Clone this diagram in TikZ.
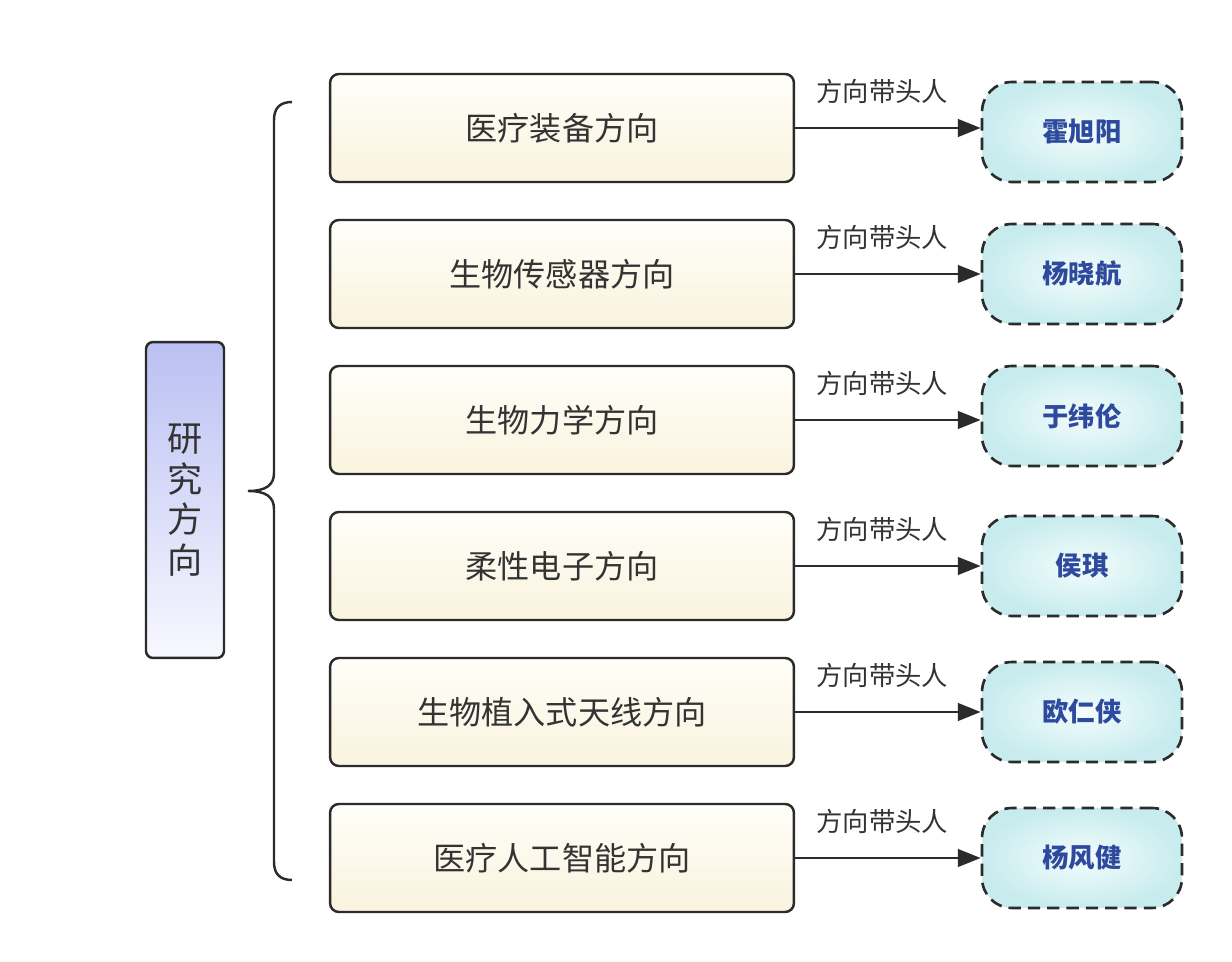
\documentclass[tikz,border=0pt]{standalone}
\usepackage{fontspec}
\setmainfont{Noto Sans CJK SC}
\usetikzlibrary{arrows.meta}
\usetikzlibrary{positioning}

\definecolor{linegray}{HTML}{2B2B2B}
\definecolor{textgray}{HTML}{333333}
\definecolor{leadblue}{HTML}{2E4A9E}
\definecolor{roottop}{HTML}{BAC0F2}
\definecolor{rootbottom}{HTML}{F8F8FF}
\definecolor{boxtop}{HTML}{FFFEF9}
\definecolor{boxbottom}{HTML}{F9F3DE}
\definecolor{leadinner}{HTML}{F4FCFC}
\definecolor{leadouter}{HTML}{C8ECEE}

\begin{document}
\begin{tikzpicture}[x=0.02cm, y=-0.02cm,
  topic/.style={draw=linegray, line width=1.4pt, rounded corners=4pt,
    top color=roottop, bottom color=rootbottom,
    minimum width=1.56cm, minimum height=6.32cm, text=textgray,
    font=\fontsize{20}{23.2}\selectfont, align=center},
  direction/.style={draw=linegray, line width=1.4pt, rounded corners=5pt,
    top color=boxtop, bottom color=boxbottom,
    minimum width=9.28cm, minimum height=2.16cm, text=textgray,
    font=\fontsize{18.3}{21}\selectfont},
  leader/.style={draw=linegray, line width=1.5pt, dash pattern=on 7pt off 4pt,
    rounded corners=0.6cm, inner color=leadinner, outer color=leadouter,
    minimum width=4cm, minimum height=2cm, text=leadblue,
    font=\fontsize{15}{18}\selectfont\bfseries},
  link/.style={draw=linegray, line width=1.4pt, -{Triangle[length=13pt,width=10pt]}},
  lbl/.style={text=textgray, font=\fontsize{15}{18}\selectfont, inner sep=1pt}]

  \useasboundingbox (0,0) rectangle (1232,962);

  % root node
  \node[topic] (root) at (185,500) {研\\究\\方\\向};

  % brace
  \draw[linegray, line width=1.4pt]
  (292,102) .. controls (280,102) and (274,108) .. (274,120)
  -- (274,473) .. controls (274,485) and (266,491) .. (248,491)
  .. controls (266,491) and (274,497) .. (274,509)
  -- (274,862) .. controls (274,874) and (280,880) .. (292,880);

  % directions
  \node[direction] (d1) at (562,128) {医疗装备方向};
  \node[direction] (d2) at (562,274) {生物传感器方向};
  \node[direction] (d3) at (562,420) {生物力学方向};
  \node[direction] (d4) at (562,566) {柔性电子方向};
  \node[direction] (d5) at (562,712) {生物植入式天线方向};
  \node[direction] (d6) at (562,858) {医疗人工智能方向};

  % leaders
  \node[leader] (l1) at (1082,132) {霍旭阳};
  \node[leader] (l2) at (1082,274) {杨晓航};
  \node[leader] (l3) at (1082,416) {于纬伦};
  \node[leader] (l4) at (1082,566) {侯琪};
  \node[leader] (l5) at (1082,712) {欧仁侠};
  \node[leader] (l6) at (1082,858) {杨风健};

  % links
  \draw[link] (d1.east) -- (l1.west |- d1.east) node[lbl, pos=0.47, above=0.42cm] {方向带头人};
  \draw[link] (d2.east) -- (l2.west) node[lbl, pos=0.47, above=0.42cm] {方向带头人};
  \draw[link] (d3.east) -- (l3.west |- d3.east) node[lbl, pos=0.47, above=0.42cm] {方向带头人};
  \draw[link] (d4.east) -- (l4.west) node[lbl, pos=0.47, above=0.42cm] {方向带头人};
  \draw[link] (d5.east) -- (l5.west) node[lbl, pos=0.47, above=0.42cm] {方向带头人};
  \draw[link] (d6.east) -- (l6.west) node[lbl, pos=0.47, above=0.42cm] {方向带头人};
\end{tikzpicture}
\end{document}
